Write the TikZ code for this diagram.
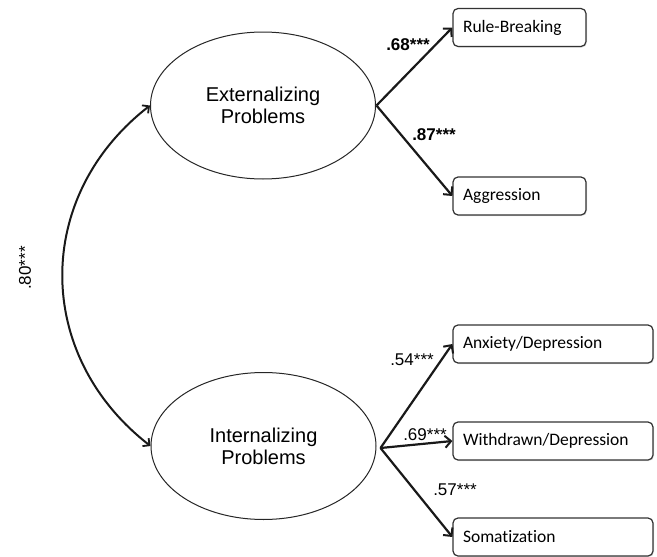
\documentclass[tikz,border=0pt]{standalone}
\usepackage{fontspec}
\setmainfont{Liberation Sans}
\newfontfamily\boxfont[Ligatures=CommonOff]{Carlito}
\usetikzlibrary{arrows.meta,shadows,shapes.geometric}
\tikzset{
  latent/.style={draw=black!85, line width=1pt, ellipse, minimum width=225pt, minimum height=147pt,
    align=center, font=\fontsize{20}{22}\selectfont, inner sep=0pt},
  obsbox/.style={draw=black!80, line width=1.2pt, rounded corners=5pt, fill=white,
    drop shadow={opacity=0.25, shadow xshift=1pt, shadow yshift=-1pt},
    minimum height=38pt, inner xsep=10pt, align=left, font=\boxfont\fontsize{17.5}{19}\selectfont},
  loadarrow/.style={draw=black!90, line width=2.2pt, -{Straight Barb[length=6pt,width=12pt,line width=2pt]}},
  covarrow/.style={draw=black!90, line width=2pt, {Straight Barb[length=5pt,width=10pt,line width=1.8pt]}-{Straight Barb[length=5pt,width=10pt,line width=1.8pt]}},
  coef/.style={font=\fontsize{17}{19}\selectfont, inner sep=0pt}
}
\begin{document}
\begin{tikzpicture}[x=1pt,y=-1pt]
\useasboundingbox (0,0) rectangle (657,557);
\node[latent] (ext) at (263,105.5) {Externalizing\\Problems};
\node[latent] (int) at (263.5,446) {Internalizing\\Problems};

\node[obsbox, text width=113pt] (rb) at (519.5,27.5) {Rule-Breaking};
\node[obsbox, text width=113pt] (ag) at (519.5,196) {Aggression};
\node[obsbox, text width=180pt] (ad) at (553,344) {Anxiety/Depression};
\node[obsbox, text width=180pt] (wd) at (553,441) {Withdrawn/Depression};
\node[obsbox, text width=180pt] (so) at (553,537) {Somatization};

\coordinate (es) at ([xshift=0.5pt]ext.east);
\coordinate (is) at ([xshift=4pt,yshift=-2pt]int.east);

\draw[loadarrow] (es) -- (rb.west);
\draw[loadarrow] (es) -- (ag.west);
\draw[loadarrow] (is) -- (ad.west);
\draw[loadarrow] (is) -- (wd.west);
\draw[loadarrow] (is) -- (so.west);

\draw[covarrow] (ext.west) .. controls (33.5,196) and (33.5,355) .. (int.west);

\node[coef, font=\bfseries\fontsize{17}{19}\selectfont] (c1) at (408,45) {.68***};
\node[coef, font=\bfseries\fontsize{17}{19}\selectfont] (c2) at (434,135) {.87***};
\node[coef] (c3) at (412,360) {.54***};
\node[coef] (c4) at (425,435) {.69***};
\node[coef] (c5) at (455,490) {.57***};
\node[coef, rotate=90] (c6) at (25,268) {.80***};
\end{tikzpicture}
\end{document}
